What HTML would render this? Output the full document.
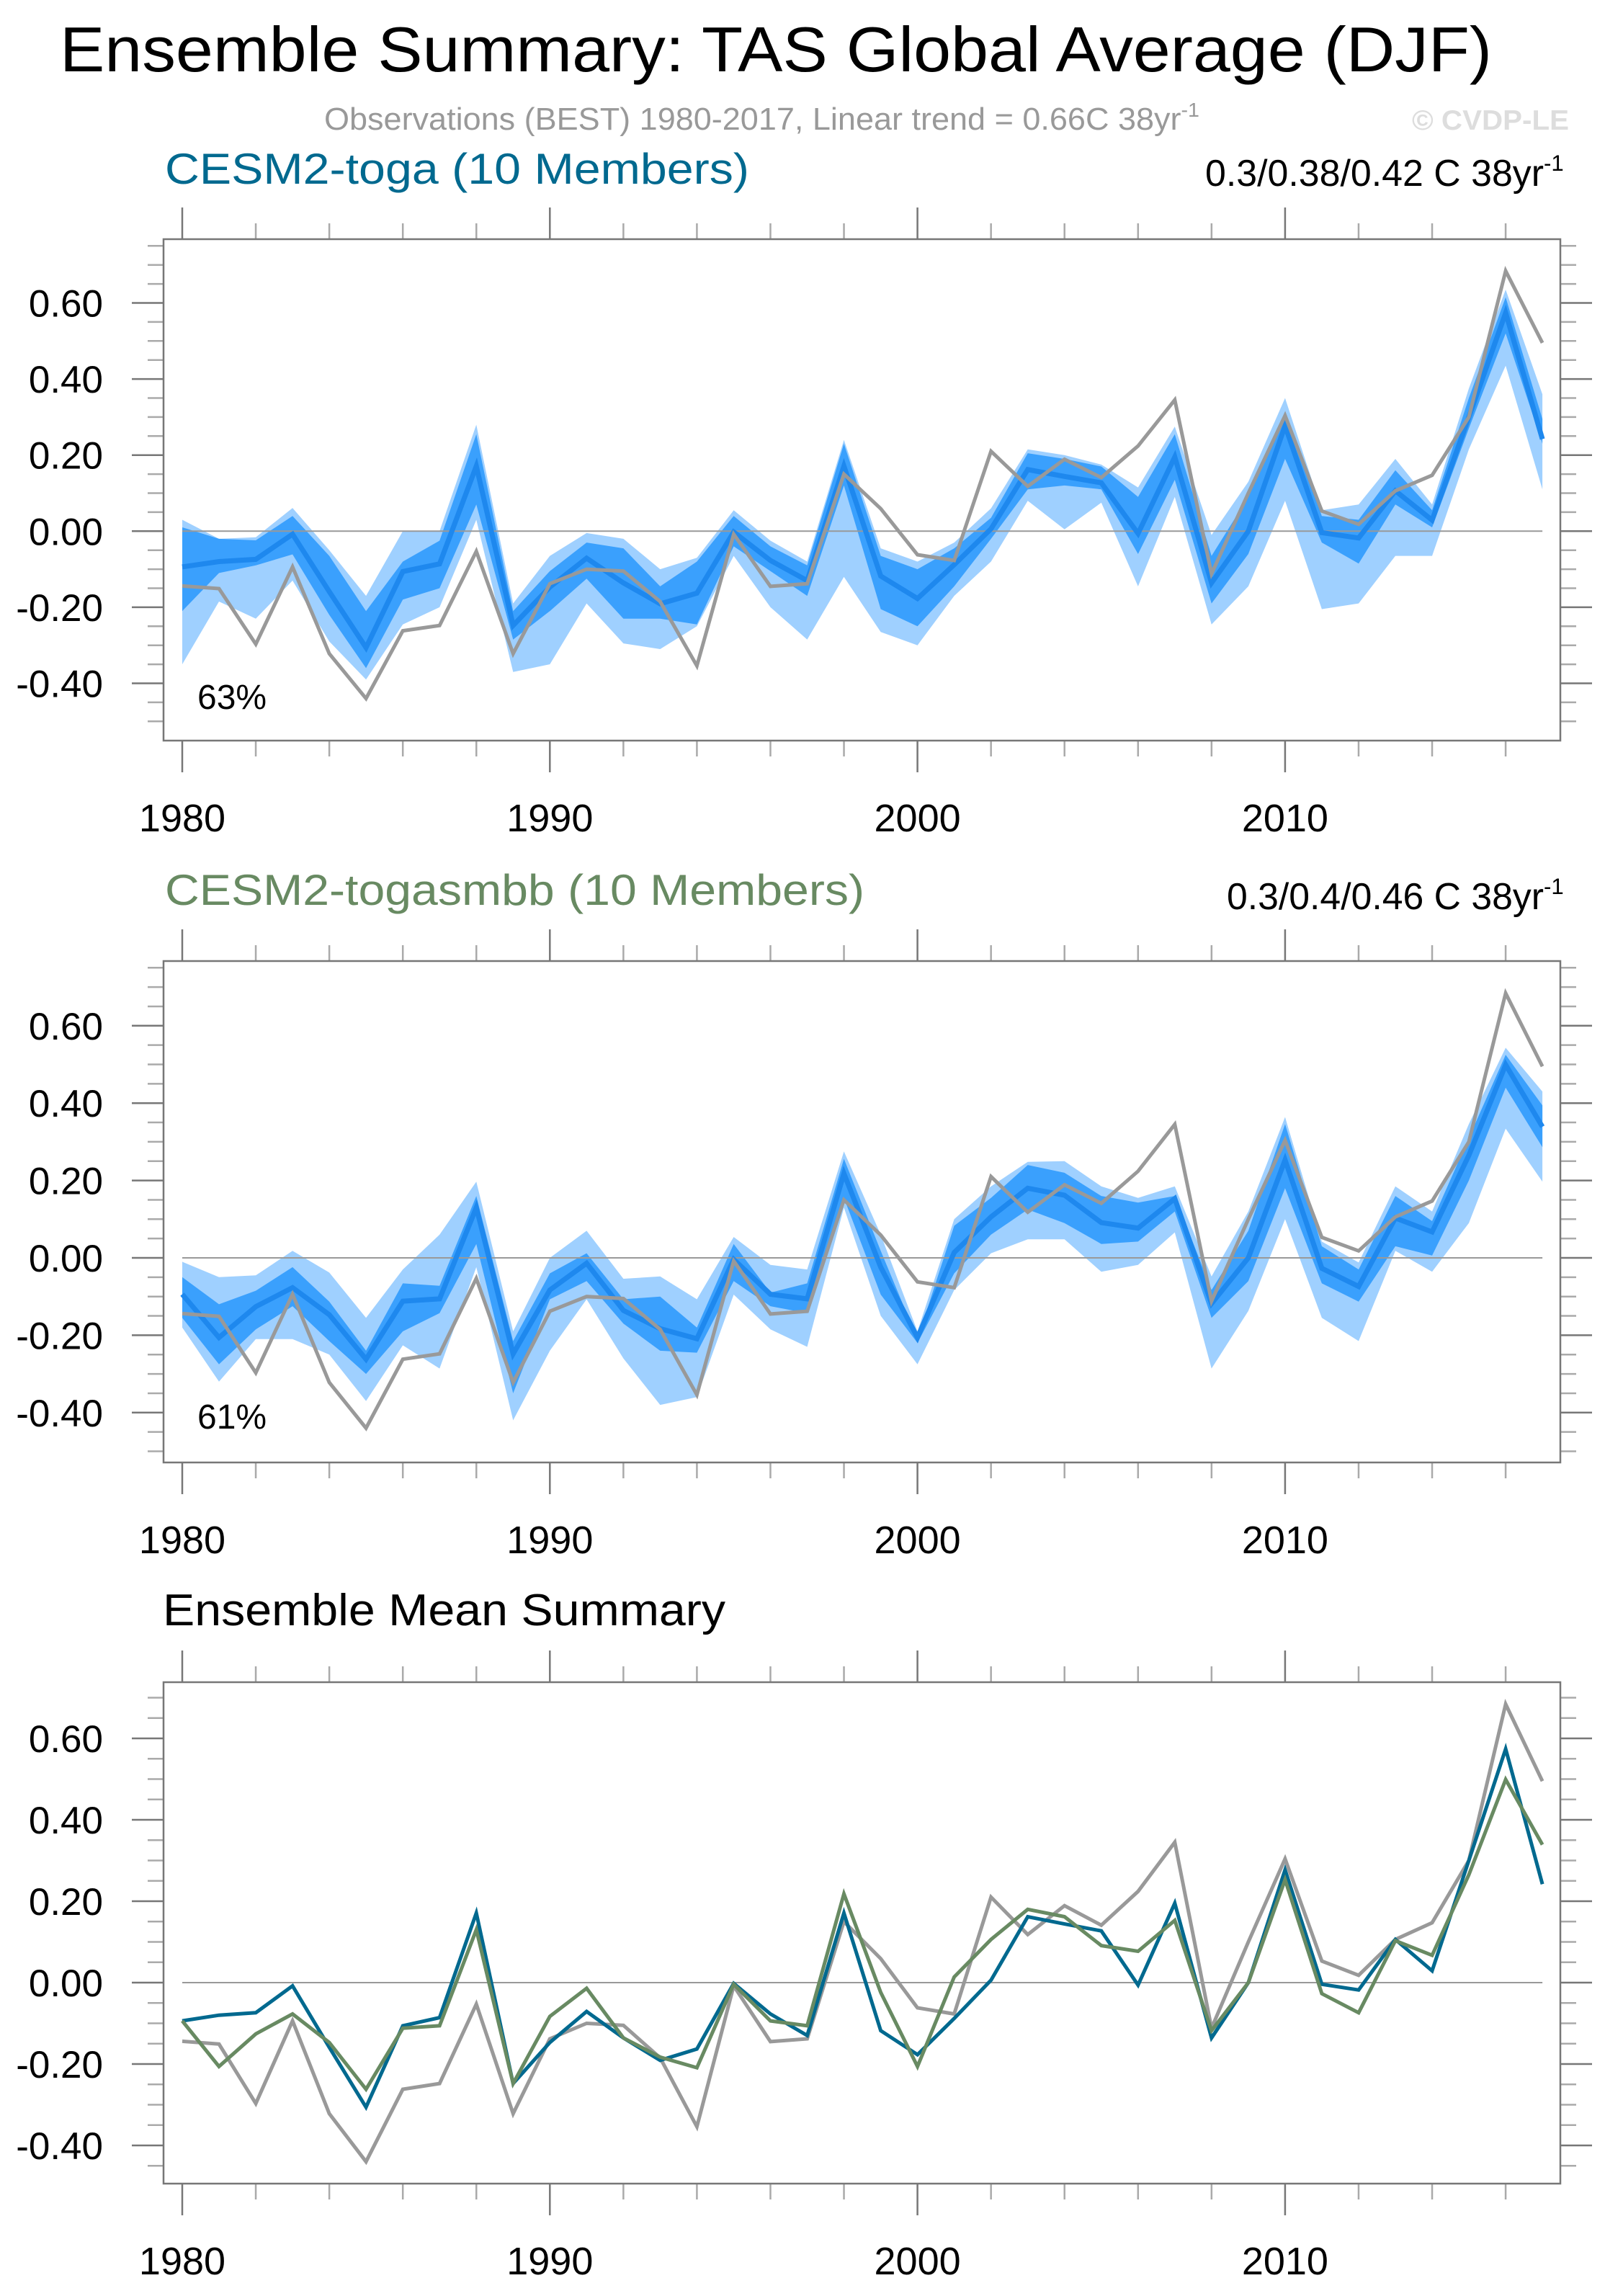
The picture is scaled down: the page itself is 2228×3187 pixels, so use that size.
<!DOCTYPE html>
<html><head><meta charset="utf-8"><title>Ensemble Summary: TAS Global Average (DJF)</title>
<style>
html,body{margin:0;padding:0;background:#fff;}
svg{display:block;font-family:"Liberation Sans",Arial,sans-serif;}
</style></head>
<body>
<svg id="chart" width="2228" height="3187" viewBox="0 0 2228 3187" xmlns="http://www.w3.org/2000/svg">
<text x="83" y="99" font-size="88" fill="#000" textLength="1988" lengthAdjust="spacingAndGlyphs">Ensemble Summary: TAS Global Average (DJF)</text>
<text x="450" y="180" font-size="44" fill="#999" textLength="1215" lengthAdjust="spacingAndGlyphs">Observations (BEST) 1980-2017, Linear trend = 0.66C 38yr<tspan dy="-18" font-size="28">-1</tspan></text>
<text x="1960" y="180" font-size="39" font-weight="bold" fill="#ddd" textLength="218" lengthAdjust="spacingAndGlyphs">© CVDP-LE</text>
<g id="p1"></g>
<g id="p2"></g>
<g id="p3"></g>
</svg>
<script>
const years = [];
for (let y = 1980; y <= 2017; y++) years.push(y);

const obs = [-0.144,-0.151,-0.297,-0.094,-0.322,-0.44,-0.262,-0.248,-0.053,-0.322,-0.138,-0.10,-0.105,-0.185,-0.354,-0.008,-0.145,-0.138,0.15,0.059,-0.062,-0.077,0.21,0.118,0.189,0.141,0.224,0.345,-0.112,0.10,0.304,0.053,0.018,0.106,0.147,0.30,0.684,0.495];

const togaMean = [-0.094,-0.08,-0.074,-0.008,-0.159,-0.306,-0.106,-0.086,0.171,-0.248,-0.147,-0.071,-0.136,-0.191,-0.163,-0.002,-0.077,-0.13,0.171,-0.118,-0.177,-0.088,0.006,0.162,0.144,0.127,-0.006,0.195,-0.136,0.0,0.277,-0.004,-0.018,0.106,0.029,0.30,0.574,0.242];
const togaLightTop = [0.03,-0.02,-0.016,0.061,-0.05,-0.17,0.0,0.0,0.28,-0.19,-0.065,-0.005,-0.02,-0.1,-0.07,0.055,-0.025,-0.08,0.24,-0.045,-0.08,-0.03,0.06,0.215,0.2,0.175,0.115,0.275,-0.01,0.13,0.35,0.055,0.07,0.19,0.07,0.375,0.635,0.36];
const togaDarkTop = [0.01,-0.02,-0.024,0.04,-0.065,-0.21,-0.08,-0.025,0.255,-0.21,-0.105,-0.03,-0.045,-0.145,-0.08,0.04,-0.04,-0.09,0.23,-0.065,-0.1,-0.045,0.035,0.205,0.19,0.17,0.09,0.255,-0.065,0.09,0.315,0.04,0.03,0.16,0.055,0.35,0.615,0.295];
const togaDarkBot = [-0.21,-0.11,-0.09,-0.061,-0.22,-0.36,-0.18,-0.15,0.07,-0.285,-0.21,-0.125,-0.23,-0.23,-0.245,-0.04,-0.105,-0.17,0.12,-0.205,-0.25,-0.145,-0.02,0.11,0.12,0.11,-0.06,0.135,-0.19,-0.06,0.19,-0.03,-0.085,0.07,0.01,0.27,0.52,0.23];
const togaLightBot = [-0.35,-0.185,-0.23,-0.13,-0.29,-0.39,-0.245,-0.2,0.03,-0.37,-0.35,-0.19,-0.295,-0.31,-0.25,-0.065,-0.2,-0.285,-0.12,-0.265,-0.3,-0.17,-0.08,0.08,0.005,0.075,-0.145,0.09,-0.245,-0.145,0.08,-0.205,-0.19,-0.065,-0.065,0.215,0.435,0.11];

const smbbMean = [-0.094,-0.206,-0.126,-0.077,-0.147,-0.262,-0.112,-0.106,0.130,-0.248,-0.083,-0.014,-0.136,-0.183,-0.209,-0.004,-0.094,-0.106,0.218,-0.024,-0.206,0.014,0.106,0.180,0.162,0.091,0.077,0.153,-0.118,0.0,0.253,-0.027,-0.074,0.103,0.067,0.265,0.499,0.339];
const smbbLightTop = [-0.01,-0.05,-0.045,0.018,-0.038,-0.155,-0.03,0.06,0.197,-0.19,0.0,0.07,-0.054,-0.048,-0.107,0.054,-0.018,-0.03,0.275,0.06,-0.19,0.1,0.185,0.248,0.25,0.185,0.155,0.185,-0.048,0.12,0.364,0.042,-0.012,0.185,0.12,0.346,0.543,0.43];
const smbbDarkTop = [-0.05,-0.12,-0.085,-0.024,-0.113,-0.24,-0.066,-0.072,0.16,-0.215,-0.04,0.012,-0.107,-0.1,-0.18,0.036,-0.09,-0.066,0.256,0.018,-0.21,0.083,0.155,0.24,0.22,0.16,0.143,0.16,-0.083,0.07,0.346,0.03,-0.03,0.16,0.095,0.31,0.525,0.394];
const smbbDarkBot = [-0.155,-0.275,-0.185,-0.125,-0.215,-0.3,-0.19,-0.143,0.036,-0.35,-0.107,-0.06,-0.17,-0.24,-0.245,-0.06,-0.125,-0.143,0.155,-0.095,-0.22,-0.04,0.06,0.125,0.09,0.036,0.042,0.12,-0.155,-0.06,0.18,-0.066,-0.113,0.03,0.006,0.2,0.44,0.286];
const smbbLightBot = [-0.18,-0.32,-0.21,-0.21,-0.25,-0.37,-0.226,-0.286,-0.024,-0.42,-0.24,-0.107,-0.26,-0.38,-0.36,-0.095,-0.185,-0.23,0.13,-0.15,-0.275,-0.083,0.012,0.048,0.048,-0.036,-0.018,0.066,-0.286,-0.137,0.1,-0.155,-0.215,0.018,-0.036,0.09,0.334,0.197];

const yTickLabels = ["-0.40","-0.20","0.00","0.20","0.40","0.60"];
const xTickLabels = ["1980","1990","2000","2010"];

const NS = "http://www.w3.org/2000/svg";
function mk(parent, tag, attrs) {
  const e = document.createElementNS(NS, tag);
  for (const k in attrs) e.setAttribute(k, attrs[k]);
  parent.appendChild(e);
  return e;
}

const X0 = 227, X1 = 2166;
function xScale(yr) { return 253 + (yr - 1980) * 51.03; }

function drawPanel(g, top, bottom, zeroY, unit, tickMin, tickMax) {
  const yScale = v => zeroY - v * unit;
  for (let k = Math.round(tickMin * 100); k <= Math.round(tickMax * 100); k += 5) {
    const v = k / 100, y = yScale(v);
    const major = (k % 20 === 0);
    const len = major ? 44 : 22;
    const t1 = mk(g, "line", {x1: X0 - len, x2: X0, y1: y, y2: y, stroke: major ? "#777" : "#aaa", "stroke-width": 2.5});
    
    
    const t2 = mk(g, "line", {x1: X1, x2: X1 + len, y1: y, y2: y, stroke: major ? "#777" : "#aaa", "stroke-width": 2.5});
    
    
  }
  yTickLabels.forEach(lbl => {
    const v = parseFloat(lbl);
    if (v < tickMin - 1e-6 || v > tickMax + 1e-6) return;
    const t = mk(g, "text", {x: 143, y: yScale(v) + 19, "font-size": 53, "text-anchor": "end", fill: "#000"});
    t.textContent = lbl;
    
    
  });
  for (let yr = 1980; yr <= 2016; yr += 2) {
    const x = xScale(yr), major = (yr % 10 === 0), len = major ? 44 : 22;
    const a = mk(g, "line", {x1: x, x2: x, y1: top - len, y2: top, stroke: major ? "#777" : "#aaa", "stroke-width": 2.5});
    
    
    const b = mk(g, "line", {x1: x, x2: x, y1: bottom, y2: bottom + len, stroke: major ? "#777" : "#aaa", "stroke-width": 2.5});
    
    
  }
  xTickLabels.forEach(lbl => {
    const t = mk(g, "text", {x: xScale(+lbl), y: bottom + 126, "font-size": 54, "text-anchor": "middle", fill: "#000"});
    t.textContent = lbl;
    
    
  });
  return yScale;
}

function band(g, topArr, botArr, yScale, color, name) {
  let d = "";
  topArr.forEach((v, i) => { d += (i ? "L" : "M") + xScale(years[i]).toFixed(1) + "," + yScale(v).toFixed(1); });
  for (let i = botArr.length - 1; i >= 0; i--) d += "L" + xScale(years[i]).toFixed(1) + "," + yScale(botArr[i]).toFixed(1);
  const p = mk(g, "path", {d: d + "Z", fill: color});
  
  
}
function line(g, arr, yScale, color, w, name) {
  const pts = arr.map((v, i) => xScale(years[i]).toFixed(1) + "," + yScale(v).toFixed(1)).join(" ");
  const p = mk(g, "polyline", {points: pts, fill: "none", stroke: color, "stroke-width": w, "stroke-linejoin": "miter"});
  
  
}
function zeroLine(g, yScale) {
  const z = mk(g, "line", {x1: xScale(1980), x2: xScale(2017), y1: yScale(0), y2: yScale(0), stroke: "#999", "stroke-width": 2});
  
  
}
function frame(g, top, bottom) {
  const r = mk(g, "rect", {x: X0, y: top, width: X1 - X0, height: bottom - top, fill: "none", stroke: "#777", "stroke-width": 2.5});
  
  
}
function text(g, x, y, size, fill, str, name, len, sup) {
  const t = mk(g, "text", {x: x, y: y, "font-size": size, fill: fill});
  const main = mk(t, "tspan", {});
  if (len) { main.setAttribute("textLength", len); main.setAttribute("lengthAdjust", "spacingAndGlyphs"); }
  main.textContent = str;
  if (sup) { const s = mk(t, "tspan", {dy: -size * 0.4, "font-size": size * 0.6}); s.textContent = sup; }
  
  
}

(function(){
  const g = document.getElementById("p1");
  const top = 332, bottom = 1028;
  const ys = drawPanel(g, top, bottom, 737.3, 528, -0.5, 0.75);
  band(g, togaLightTop, togaLightBot, ys, "#9fd0ff", "spread-band-outer");
  band(g, togaDarkTop, togaDarkBot, ys, "#3aa0fd", "spread-band-inner");
  zeroLine(g, ys);
  line(g, togaMean, ys, "#1e88ee", 7, "ensemble-mean-line");
  line(g, obs, ys, "#999", 5, "observations-line");
  frame(g, top, bottom);
  text(g, 229, 255, 60, "#00698f", "CESM2-toga (10 Members)", "panel-title", 811);
  text(g, 1673, 258, 52, "#000", "0.3/0.38/0.42 C 38yr", "trend-label", 470, "-1");
  text(g, 274, 984, 48, "#000", "63%", "percent-label");
})();
(function(){
  const g = document.getElementById("p2");
  const top = 1334, bottom = 2030;
  const ys = drawPanel(g, top, bottom, 1746, 537, -0.5, 0.75);
  band(g, smbbLightTop, smbbLightBot, ys, "#9fd0ff", "spread-band-outer");
  band(g, smbbDarkTop, smbbDarkBot, ys, "#3aa0fd", "spread-band-inner");
  zeroLine(g, ys);
  line(g, smbbMean, ys, "#1e88ee", 7, "ensemble-mean-line");
  line(g, obs, ys, "#999", 5, "observations-line");
  frame(g, top, bottom);
  text(g, 229, 1256, 60, "#688a62", "CESM2-togasmbb (10 Members)", "panel-title", 971);
  text(g, 1703, 1262, 52, "#000", "0.3/0.4/0.46 C 38yr", "trend-label", 440, "-1");
  text(g, 274, 1983, 48, "#000", "61%", "percent-label");
})();
(function(){
  const g = document.getElementById("p3");
  const top = 2335, bottom = 3031;
  const ys = drawPanel(g, top, bottom, 2752, 565, -0.45, 0.70);
  zeroLine(g, ys);
  line(g, obs, ys, "#999", 5, "observations-line");
  line(g, togaMean, ys, "#00698f", 5, "cesm2-toga-mean-line");
  line(g, smbbMean, ys, "#688a62", 5, "cesm2-togasmbb-mean-line");
  frame(g, top, bottom);
  text(g, 226, 2256, 62, "#000", "Ensemble Mean Summary", "panel-title", 781);
})();
</script>
</body></html>
